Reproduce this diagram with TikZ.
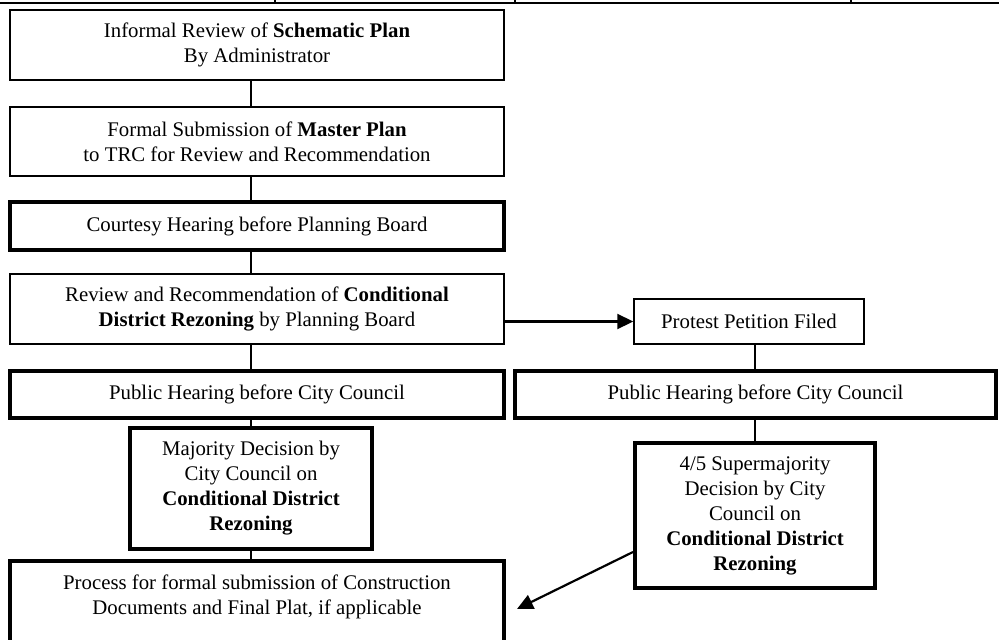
\documentclass[tikz,border=0pt]{standalone}
\usepackage{fontspec}
\setmainfont{Liberation Serif}
\usetikzlibrary{arrows.meta}
\begin{document}
\begin{tikzpicture}[x=1pt,y=-1pt,
  txt/.style={align=center, inner sep=0pt, font=\fontsize{20.8}{25}\selectfont},
  box/.style={txt, draw, line width=1.5pt},
  heavy/.style={box, line width=4pt},
  conn/.style={line width=1.5pt},
  arr/.style={line width=2.2pt, -{Triangle[length=16pt,width=15pt]}},
  rule/.style={line width=2pt}]
\useasboundingbox (0,0) rectangle (999,640);
\clip (0,0) rectangle (999,640);
% remnant of table border
\draw[rule] (0,3) -- (999,3);
\draw[rule] (275,0) -- (275,3);
\draw[rule] (515,0) -- (515,3);
\draw[rule] (851,0) -- (851,3);
\coordinate (mx) at (251,0);
\coordinate (rx) at (755,0);
\node[box, minimum width=494pt, minimum height=70pt] (b1) at (257,45)
  {Informal Review of \textbf{Schematic Plan}\\By Administrator};
\node[box, minimum width=494pt, minimum height=69pt] (b2) at (257,141.5)
  {Formal Submission of \textbf{Master Plan}\\to TRC for Review and Recommendation};
\node[heavy, minimum width=494pt, minimum height=48pt] (b3) at (257,226)
  {Courtesy Hearing before Planning Board};
\node[box, minimum width=494pt, minimum height=70pt] (b4) at (257,309)
  {Review and Recommendation of \textbf{Conditional}\\\textbf{District Rezoning} by Planning Board};
\node[box, minimum width=230pt, minimum height=45pt] (pp) at (749,321.5)
  {Protest Petition Filed};
\node[heavy, minimum width=494pt, minimum height=47pt] (b5) at (257,394.5)
  {Public Hearing before City Council};
\node[heavy, minimum width=481pt, minimum height=47pt] (r5) at (755.5,394.5)
  {Public Hearing before City Council};
\node[heavy, minimum width=242pt, minimum height=121pt] (b6) at (251,488.5)
  {Majority Decision by\\City Council on\\\textbf{Conditional District}\\\textbf{Rezoning}};
\node[heavy, minimum width=240pt, minimum height=145pt] (r7) at (755,515.5)
  {4/5 Supermajority\\Decision by City\\Council on\\\textbf{Conditional District}\\\textbf{Rezoning}};
\node[heavy, minimum width=494pt, minimum height=100pt, anchor=north] (b8) at (257,559) {};
\node[txt] (t8) at (257,596.5)
  {Process for formal submission of Construction\\Documents and Final Plat, if applicable};
\coordinate (tip) at (517,609);
% connectors
\draw[conn] (b1.south -| mx) -- (b2.north -| mx);
\draw[conn] (b2.south -| mx) -- (b3.north -| mx);
\draw[conn] (b3.south -| mx) -- (b4.north -| mx);
\draw[conn] (b4.south -| mx) -- (b5.north -| mx);
\draw[conn] (b5.south -| mx) -- (b6.north -| mx);
\draw[conn] (b6.south -| mx) -- (b8.north -| mx);
\draw[arr] (b4.east |- pp.west) -- (pp.west);
\draw[conn] (pp.south -| rx) -- (r5.north -| rx);
\draw[conn] (r5.south -| rx) -- (r7.north -| rx);
\draw[arr] ([yshift=-36.5pt]r7.west) -- (tip);
\end{tikzpicture}
\end{document}
